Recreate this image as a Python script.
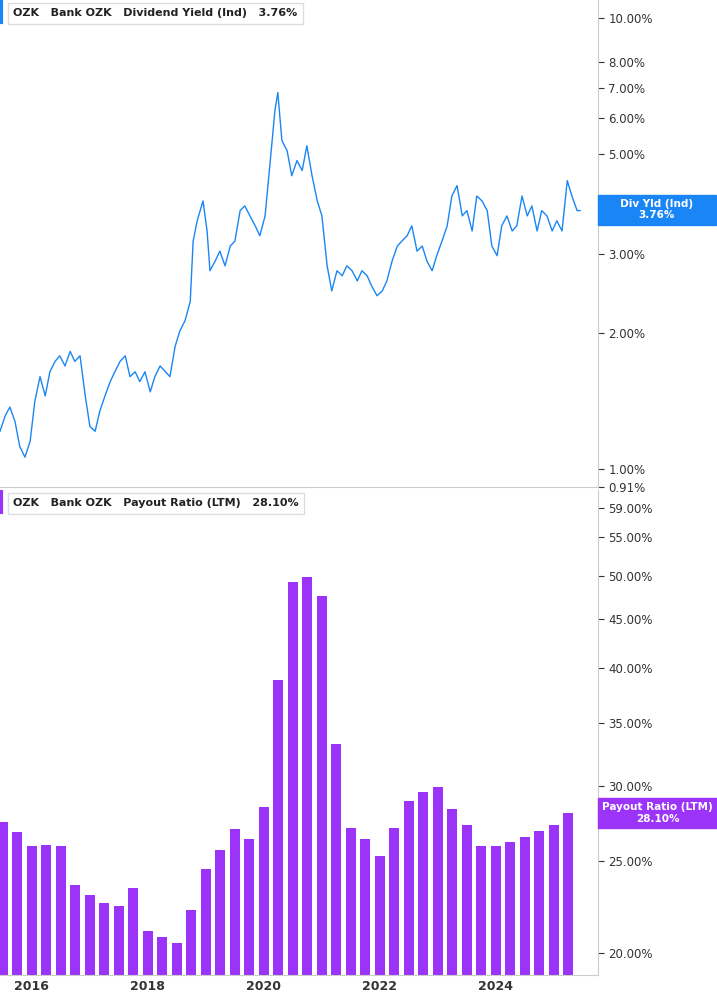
import numpy as np, pandas as pd, seaborn as sns, matplotlib
matplotlib.use("Agg")
import matplotlib.pyplot as plt
from matplotlib.ticker import FixedLocator, NullLocator

# Dividend yield (%) sampled points: decimal year, value
yld_years = [2015.45,2015.54,2015.62,2015.71,2015.79,2015.88,2015.97,2016.05,2016.14,2016.23,2016.31,2016.40,2016.48,2016.57,2016.66,2016.74,2016.83,2016.92,2017.00,2017.09,2017.17,2017.26,2017.35,2017.43,2017.52,2017.61,2017.69,2017.78,2017.86,2017.95,2018.04,2018.12,2018.21,2018.38,2018.47,2018.55,2018.64,2018.73,2018.78,2018.85,2018.95,2019.02,2019.07,2019.16,2019.24,2019.33,2019.42,2019.50,2019.59,2019.67,2019.76,2019.85,2019.93,2020.02,2020.11,2020.19,2020.24,2020.31,2020.40,2020.48,2020.57,2020.66,2020.74,2020.83,2020.92,2021.00,2021.09,2021.17,2021.26,2021.35,2021.43,2021.52,2021.61,2021.69,2021.78,2021.86,2021.95,2022.04,2022.12,2022.21,2022.30,2022.38,2022.47,2022.55,2022.64,2022.73,2022.81,2022.90,2022.98,2023.07,2023.16,2023.24,2023.33,2023.42,2023.50,2023.59,2023.67,2023.76,2023.85,2023.93,2024.02,2024.10,2024.19,2024.28,2024.36,2024.45,2024.54,2024.62,2024.71,2024.79,2024.88,2024.97,2025.05,2025.14,2025.23,2025.31,2025.40,2025.45]
yld_vals = [1.21,1.31,1.37,1.27,1.12,1.06,1.15,1.41,1.60,1.45,1.64,1.73,1.78,1.69,1.82,1.73,1.78,1.45,1.24,1.21,1.34,1.45,1.56,1.64,1.73,1.78,1.60,1.64,1.56,1.64,1.48,1.60,1.69,
            1.60,1.87,2.02,2.13,2.35,3.20,3.55,3.93,3.37,2.75,2.89,3.04,2.82,3.12,3.20,3.74,3.83,3.64,3.46,3.29,
            3.64,4.83,6.24,6.84,5.35,5.08,4.47,4.83,4.59,5.21,4.47,3.93,3.64,2.82,
            2.48,2.75,2.68,2.82,2.75,2.61,2.75,2.68,2.54,2.42,2.48,2.61,2.89,3.12,3.20,3.29,3.46,3.04,3.12,2.89,2.75,2.97,3.20,3.46,4.03,4.25,3.64,3.74,3.37,4.03,3.93,3.74,3.12,2.97,3.46,3.64,3.37,3.46,4.03,3.64,3.83,3.37,3.74,3.64,3.37,3.55,3.37,4.36,4.03,3.74,3.74]

# Payout ratio (%) quarterly
pay_quarters = list(np.arange(2015.5, 2025.3, 0.25))
pay_vals = [27.5,26.8,25.9,26.0,25.9,23.6,23.0,22.6,22.4,23.4,21.1,20.8,20.5,22.2,24.5,25.7,27.0,26.4,28.5,38.8,49.3,49.8,47.6,33.2,27.1,26.4,25.3,27.1,28.9,29.6,29.9,28.4,27.3,25.9,25.9,26.2,26.5,26.9,27.3,28.1]

top_ticks = [1,2,3,4,5,6,7,8,10]
bot_ticks = [20,25,30,35,40,45,50,55,59]
blue = "#1a86f5"; purple = "#9b33f9"

n = min(len(yld_years), len(yld_vals))
fig = plt.figure(figsize=(7.17,10.05), dpi=100)
ax1 = fig.add_axes([0, 518/1005, 598/717, 487/1005])
ax2 = fig.add_axes([0, 30/1005, 598/717, 485/1005])

sns.lineplot(x=yld_years[:n], y=yld_vals[:n], ax=ax1, color=blue, linewidth=1.0)
ax1.set_yscale("log"); ax1.set_ylim(0.91, 10.98)
sns.barplot(x=pay_quarters, y=pay_vals, ax=ax2, native_scale=True, color=purple, width=0.7, saturation=1)
ax2.set_yscale("log"); ax2.set_ylim(18.95, 61.6)

for ax, ticks in [(ax1, top_ticks+[0.91]), (ax2, bot_ticks)]:
    ax.set_xlim(2015.45, 2025.76)
    ax.yaxis.tick_right()
    ax.yaxis.set_major_locator(FixedLocator(ticks))
    ax.yaxis.set_minor_locator(NullLocator())
    ax.set_yticklabels([f"{t:.2f}%" for t in ticks])
    ax.tick_params(axis="y", labelsize=8.5, colors="#333333", length=4)
    ax.set_xlabel(""); ax.set_ylabel("")
    for s in ["top","left"]: ax.spines[s].set_visible(False)
    ax.spines["right"].set_color("#cccccc")
    ax.spines["bottom"].set_color("#cccccc")
ax1.set_xticks([])
ax2.set_xticks([2016,2018,2020,2022,2024])
ax2.set_xticklabels(["2016","2018","2020","2022","2024"], fontsize=9, fontweight="bold", color="#333")
ax2.tick_params(axis="x", length=0)
ax1.get_yticklabels()[3].set_visible(False)

def header(ax, txt, val, col):
    ax.text(0.022, 0.983, f"OZK   Bank OZK   {txt}   {val}", transform=ax.transAxes, va="top", ha="left",
            fontsize=8, fontweight="bold", color="#222",
            bbox=dict(boxstyle="square,pad=0.5", fc="white", ec="#dddddd"))
    ax.axvline(2015.47, ymin=0.955, ymax=0.995, color=col, lw=3)
header(ax1, "Dividend Yield (Ind)", "3.76%", blue)
header(ax2, "Payout Ratio (LTM)", "28.10%", purple)

def tag(ax, y, lines, col):
    ax.annotate(lines, xy=(1.0, y), xycoords=("axes fraction","data"), xytext=(3,0), textcoords="offset points",
                ha="left", va="center", fontsize=7.5, color="white", fontweight="bold", multialignment="center",
                bbox=dict(boxstyle="square,pad=0.4", fc=col, ec=col), annotation_clip=False)
tag(ax1, 3.76, "     Div Yld (Ind)     \n3.76%", blue)
tag(ax2, 28.1, "Payout Ratio (LTM)\n28.10%", purple)
fig.savefig("out.png", dpi=100)
